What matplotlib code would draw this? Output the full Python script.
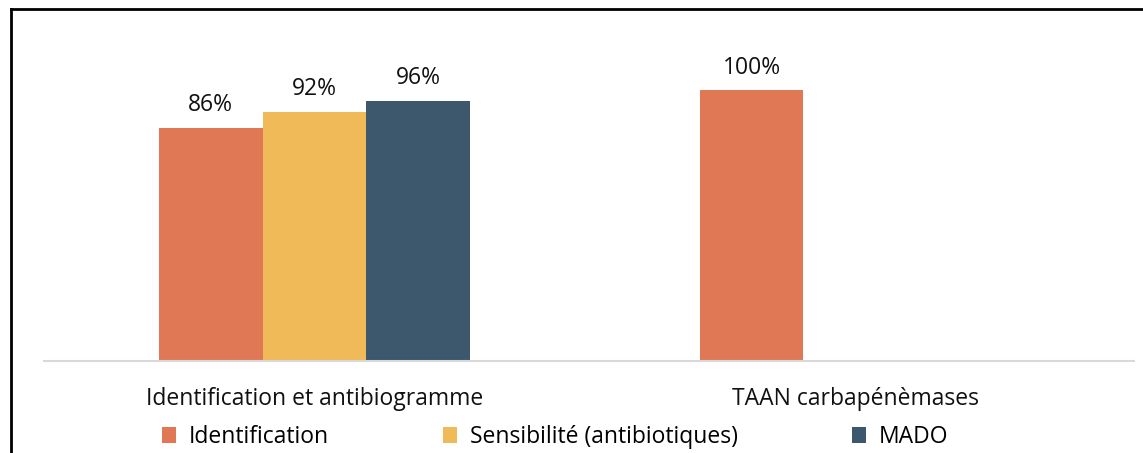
import numpy as np
import matplotlib.pyplot as plt

plt.rcParams['font.family'] = ['Open Sans', 'DejaVu Sans']

# data
categories = ["Identification et antibiogramme", "TAAN carbapénèmases"]
series = ["Identification", "Sensibilité (antibiotiques)", "MADO"]
identification = [86, 100]
sensibilite = [92, np.nan]
mado = [96, np.nan]
colors = ['#E07856', '#F0BA58', '#3D576C']

fig = plt.figure(figsize=(11.43, 4.53), dpi=100)
ax = fig.add_axes([44 / 1143, 1 - 361 / 453, 1090 / 1143, 341 / 453])

x = np.arange(len(categories))
w = 0.192
for i, (vals, name) in enumerate(zip([identification, sensibilite, mado], series)):
    bars = ax.bar(x + (i - 1) * w, vals, w, color=colors[i], label=name)
    for b, v in zip(bars, vals):
        if not np.isnan(v):
            ax.text(b.get_x() + b.get_width() / 2, v + 4, f"{v:.0f}%",
                    ha='center', va='bottom', fontsize=16.5, color='#111111')

ax.set_xlim(-0.5, 1.515)
ax.set_ylim(0, 126)
ax.set_xticks(x)
ax.set_xticklabels(categories, fontsize=16.5, color='#111111')
ax.tick_params(axis='x', length=0, pad=19)
ax.set_yticks([])
for s in ['top', 'right', 'left']:
    ax.spines[s].set_visible(False)
ax.spines['bottom'].set_color('#D9D9D9')
ax.spines['bottom'].set_linewidth(1.5)

fig.legend(loc='center', bbox_to_anchor=(555 / 1143, 1 - 437 / 453), ncol=3,
           frameon=False, fontsize=16.5, handlelength=0.65, handleheight=0.65,
           columnspacing=4.95, handletextpad=0.55)

# frame
fig.add_artist(plt.Line2D([11 / 1143, 11 / 1143], [0, 1 - 9 / 453], color='black', lw=2))
fig.add_artist(plt.Line2D([11 / 1143, 1], [1 - 9 / 453, 1 - 9 / 453], color='black', lw=2))

fig.savefig('out.png')
